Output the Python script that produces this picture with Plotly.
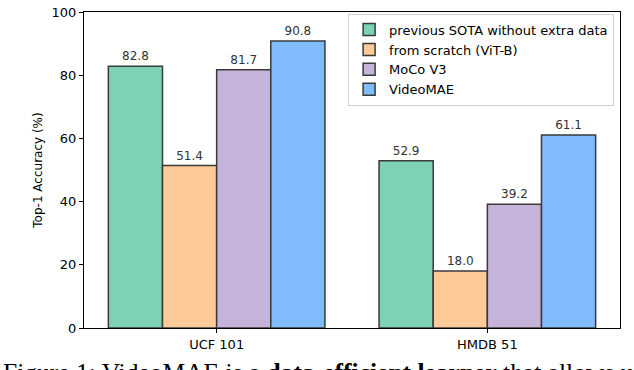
import plotly.graph_objects as go

# Datasets on the x axis and the four methods compared.
datasets = ['UCF 101', 'HMDB 51']
methods = ['previous SOTA without extra data', 'from scratch (ViT-B)',
           'MoCo V3', 'VideoMAE']
sota = [82.8, 52.9]
scratch = [51.4, 18.0]
moco = [81.7, 39.2]
videomae = [90.8, 61.1]
y_ticks = [0, 20, 40, 60, 80, 100]

COLORS = ['#7dd1b4', '#fdca98', '#c5b3d9', '#80bcfb']
FONT = 'DejaVu Sans'


def build_figure():
    fig = go.Figure()
    xs = list(range(len(datasets)))
    for name, vals, color in zip(methods, [sota, scratch, moco, videomae], COLORS):
        fig.add_trace(go.Bar(
            x=xs, y=vals, name=name,
            marker=dict(color=color, line=dict(color='#3a3a3a', width=1.5)),
            texttemplate='%{y:.1f}', textposition='outside',
            textfont=dict(family=FONT, size=12, color='#333333'),
            cliponaxis=False,
        ))

    fig.update_layout(
        width=634, height=370,
        margin=dict(l=84, r=14, t=5, b=42),
        barmode='group', bargap=0.2, bargroupgap=0,
        plot_bgcolor='white', paper_bgcolor='white',
        font=dict(family=FONT, size=13, color='black'),
        showlegend=True,
        legend=dict(
            x=0.989, y=0.995, xanchor='right', yanchor='top',
            bgcolor='white', bordercolor='#d0d0d0', borderwidth=1,
            font=dict(family=FONT, size=13), tracegroupgap=0,
        ),
        xaxis=dict(
            range=[-0.49, 1.49], tickvals=xs, ticktext=datasets,
            ticks='outside', ticklen=4, tickcolor='black',
            showline=True, linecolor='black', linewidth=1, mirror=True,
            showgrid=False, zeroline=False,
            tickfont=dict(family=FONT, size=13),
        ),
        yaxis=dict(
            range=[0, 100], tickvals=y_ticks,
            ticks='outside', ticklen=4, tickcolor='black',
            showline=True, linecolor='black', linewidth=1, mirror=True,
            showgrid=False, zeroline=False, ticklabeloverflow='allow',
            tickfont=dict(family=FONT, size=13),
            title=dict(text='Top-1 Accuracy (%)', standoff=6,
                       font=dict(family=FONT, size=12)),
        ),
    )

    # Caption from the paper, cut off by the bottom edge of the picture.
    fig.add_annotation(
        text='Figure 1: VideoMAE is a <b>data-efficient learner</b> that allows us',
        xref='paper', yref='paper', x=-0.155, y=-0.088,
        xanchor='left', yanchor='top', showarrow=False,
        font=dict(family='Liberation Serif', size=25.5, color='black'),
    )
    return fig


def main():
    fig = build_figure()
    # drop the page's default body margin so the figure sits at the top-left
    fig.write_html('out.html', config={'displayModeBar': False},
                   post_script="document.body.style.margin='0';")


if __name__ == '__main__':
    main()
